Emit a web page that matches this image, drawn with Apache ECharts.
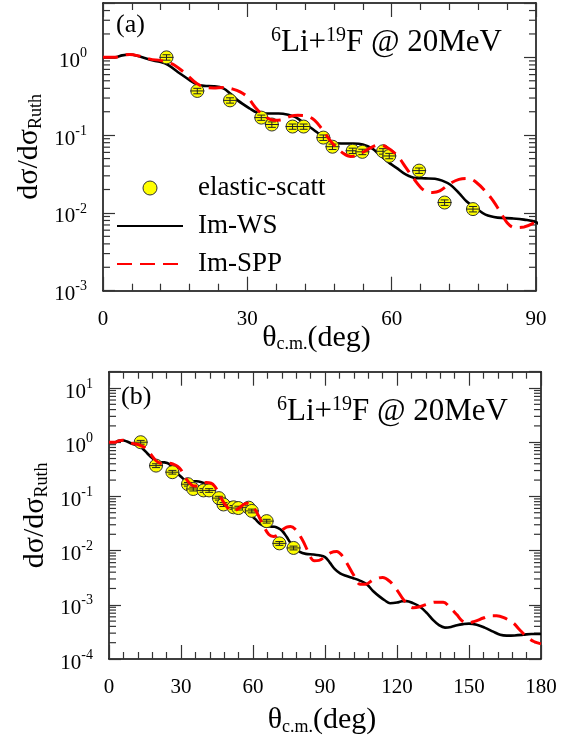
<!DOCTYPE html>
<html>
<head>
<meta charset="utf-8">
<script src="https://cdn.jsdelivr.net/npm/echarts@6/dist/echarts.min.js"></script>
<style>
  html, body { margin: 0; padding: 0; background: #fff; }
  #chart { width: 575px; height: 742px; }
</style>
</head>
<body>
<div id="chart"></div>
<script>
const FONT = '"Liberation Serif", "Times New Roman", serif';

// Measured elastic scattering, ratio to Rutherford, vs θc.m. (deg)
const thetaExp = [13.2, 19.6, 26.4, 32.9, 35.1, 39.4, 41.7, 45.8, 47.7, 51.9, 53.9, 58.2, 59.5, 65.7, 71.0, 76.9];
const sigmaExp = [1.0, 0.37, 0.28, 0.168, 0.137, 0.129, 0.129, 0.093, 0.071, 0.063, 0.061, 0.062, 0.054, 0.035, 0.0136, 0.0112];
const errExp   = [0.08, 0.03, 0.022, 0.013, 0.011, 0.010, 0.010, 0.0075, 0.0057, 0.005, 0.0049, 0.005, 0.0043, 0.0028, 0.0011, 0.0009];

// Optical-model calculation with Woods-Saxon imaginary part
const thetaWS = [0, 2.5, 4, 5.6, 7.5, 9.8, 12, 13.5, 16, 18, 19.5, 21, 23, 25, 26.5, 28, 30.5, 32, 34, 36.5, 38.5, 40, 42, 44.4, 46, 47.5, 49.5, 52, 54, 56, 57.6, 59.7, 61, 63, 65, 67, 69, 70.5, 72.2, 74, 75.6, 77.5, 79.5, 82, 85, 87.5, 90, 92, 94, 96.3, 99, 101.8, 104.5, 107.4, 110, 112.9, 115, 117.1, 120, 122, 124, 126.5, 129.6, 132.5, 135.1, 137.5, 140, 142.5, 145, 147.6, 150, 153.2, 156.5, 160.1, 163, 165.7, 169, 172.6, 176, 180];
const sigmaWS = [1.0, 1.0, 1.06, 1.09, 1.03, 0.93, 0.87, 0.80, 0.62, 0.51, 0.45, 0.43, 0.425, 0.40, 0.34, 0.28, 0.22, 0.195, 0.19, 0.19, 0.183, 0.17, 0.14, 0.11, 0.092, 0.081, 0.078, 0.078, 0.076, 0.067, 0.055, 0.043, 0.038, 0.031, 0.028, 0.0278, 0.0275, 0.026, 0.023, 0.018, 0.014, 0.0115, 0.0095, 0.0087, 0.0085, 0.0082, 0.0076, 0.006, 0.0046, 0.0038, 0.0034, 0.0031, 0.0028, 0.0024, 0.0018, 0.0014, 0.0012, 0.00107, 0.0011, 0.00116, 0.00117, 0.00108, 0.00092, 0.0007, 0.00052, 0.00042, 0.00038, 0.00039, 0.00042, 0.00044, 0.00045, 0.00043, 0.00038, 0.00032, 0.00028, 0.00027, 0.000272, 0.00028, 0.00029, 0.00029];

// Optical-model calculation with São Paulo imaginary part
const thetaSPP = [0, 2.5, 4, 5.6, 7.5, 9.8, 12, 13.5, 14.8, 17, 19.5, 21.5, 23, 25, 27, 28.5, 30, 32, 34, 35.5, 37, 39, 40.5, 42.5, 44, 45.5, 47.9, 50, 51.5, 53.5, 55.5, 57.3, 59, 61.1, 63, 64.5, 66.6, 68.5, 70, 72.2, 74, 75.6, 77.5, 80.5, 82.5, 84, 85.5, 87.5, 90, 92.5, 94.9, 97, 99, 102, 104.6, 107, 110.1, 114, 117, 119.9, 123, 126.8, 129.5, 132.4, 136, 139.3, 142, 144.9, 147, 149, 152, 156, 159, 161.5, 164.5, 168.5, 171, 174, 177, 180];
const sigmaSPP = [1.0, 1.0, 1.06, 1.09, 1.04, 0.95, 0.91, 0.86, 0.80, 0.63, 0.46, 0.41, 0.405, 0.41, 0.39, 0.36, 0.31, 0.215, 0.168, 0.155, 0.157, 0.175, 0.18, 0.175, 0.155, 0.12, 0.076, 0.058, 0.053, 0.058, 0.068, 0.075, 0.07, 0.055, 0.038, 0.028, 0.0198, 0.0183, 0.0192, 0.024, 0.027, 0.0278, 0.025, 0.016, 0.0105, 0.0075, 0.0065, 0.0066, 0.0077, 0.0092, 0.0096, 0.0082, 0.006, 0.0035, 0.0024, 0.0024, 0.0029, 0.0032, 0.0027, 0.0019, 0.0012, 0.00088, 0.00092, 0.00102, 0.00112, 0.00112, 0.0009, 0.00066, 0.00051, 0.00046, 0.00049, 0.00057, 0.00063, 0.00063, 0.00058, 0.00046, 0.00035, 0.00026, 0.00021, 0.00019];

// Axis ranges and minor log ticks (2..9 per decade)
const xMaxA = 90, xMaxB = 180;
const yMinA = 1e-3, yMaxA = 5;
const yMinB = 1e-4, yMaxB = 20;
const minorMult = [2, 3, 4, 5, 6, 7, 8, 9];
const decadesA = [-3, -2, -1, 0];
const decadesB = [-4, -3, -2, -1, 0, 1];

function minorTicks(decades, yMax) {
  const out = [];
  decades.forEach(d => minorMult.forEach(m => {
    const v = m * Math.pow(10, d);
    if (v < yMax) out.push([0, v]);
  }));
  return out;
}

const expData = thetaExp.map((t, i) => [t, sigmaExp[i], errExp[i]]);
const wsData = thetaWS.map((t, i) => [t, sigmaWS[i]]);
const sppData = thetaSPP.map((t, i) => [t, sigmaSPP[i]]);

const labelRich = {
  b: { fontFamily: FONT, fontSize: 21, color: '#000', lineHeight: 30 },
  s: { fontFamily: FONT, fontSize: 14, color: '#000', lineHeight: 14, verticalAlign: 'top' }
};

function powLabel(v) {
  const lg = Math.log10(v);
  const e = Math.round(lg);
  if (Math.abs(lg - e) > 1e-6) return '';
  return '{b|10}{s|' + e + '}';
}

const nameRich = {
  b: { fontFamily: FONT, fontSize: 30, fontWeight: 'normal', color: '#000', lineHeight: 32 },
  s: { fontFamily: FONT, fontSize: 18, fontWeight: 'normal', color: '#000', lineHeight: 18, verticalAlign: 'bottom' }
};

function xAxisPair(gridIndex, xMax, nameGap) {
  const common = {
    gridIndex, type: 'value', min: 0, max: xMax, interval: 30,
    axisLine: { show: true, onZero: false, lineStyle: { color: '#000', width: 1.5 } },
    axisTick: { show: true, inside: true, length: 14, lineStyle: { color: '#333', width: 1.2 } },
    minorTick: { show: true, splitNumber: 5, length: 7, lineStyle: { color: '#333', width: 1.2 } },
    splitLine: { show: false }, minorSplitLine: { show: false }
  };
  return [
    Object.assign({}, common, {
      position: 'bottom',
      axisLabel: { show: true, margin: 18, fontFamily: FONT, fontSize: 21, color: '#000' },
      name: '{b|θ}{s|c.m.}{b|(deg)}',
      nameLocation: 'middle', nameGap,
      nameMoveOverlap: false,
      nameTextStyle: { rich: nameRich, padding: [0, 6, 0, 0] }
    }),
    Object.assign({}, common, { position: 'top', axisLabel: { show: false } })
  ];
}

function yAxisPair(gridIndex, yMin, yMax, nameGap) {
  const common = {
    gridIndex, type: 'log', logBase: 10, min: yMin, max: yMax,
    axisLine: { show: true, onZero: false, lineStyle: { color: '#000', width: 1.5 } },
    axisTick: { show: true, inside: true, length: 12, lineStyle: { color: '#333', width: 1.2 } },
    minorTick: { show: false },
    splitLine: { show: false }
  };
  return [
    Object.assign({}, common, {
      position: 'left',
      axisLabel: { show: true, margin: 16, padding: [8, 0, 0, 0], formatter: powLabel, rich: labelRich },
      name: '{b|dσ/dσ}{s|Ruth}',
      nameLocation: 'middle', nameGap, nameRotate: 90,
      nameMoveOverlap: false,
      nameTextStyle: { rich: nameRich }
    }),
    Object.assign({}, common, { position: 'right', axisLabel: { show: false } })
  ];
}

function renderExp(params, api) {
  const x = api.value(0), y = api.value(1), e = api.value(2);
  const c = api.coord([x, y]);
  const lo = api.coord([x, y - e]);
  const hi = api.coord([x, y + e]);
  const ls = { stroke: '#222', lineWidth: 1 };
  return {
    type: 'group',
    children: [
      { type: 'circle', shape: { cx: c[0], cy: c[1], r: 6.5 }, style: { fill: '#ffff00', stroke: '#333', lineWidth: 1 } },
      { type: 'line', shape: { x1: c[0] - 7, y1: c[1], x2: c[0] + 7, y2: c[1] }, style: ls },
      { type: 'line', shape: { x1: c[0], y1: lo[1], x2: c[0], y2: hi[1] }, style: ls },
      { type: 'line', shape: { x1: c[0] - 4, y1: lo[1], x2: c[0] + 4, y2: lo[1] }, style: ls },
      { type: 'line', shape: { x1: c[0] - 4, y1: hi[1], x2: c[0] + 4, y2: hi[1] }, style: ls }
    ]
  };
}

function renderMinor(params, api) {
  const cs = params.coordSys;
  const y = api.coord([api.value(0), api.value(1)])[1];
  const st = { stroke: '#333', lineWidth: 1.2 };
  return {
    type: 'group',
    children: [
      { type: 'line', shape: { x1: cs.x, y1: y, x2: cs.x + 7, y2: y }, style: st },
      { type: 'line', shape: { x1: cs.x + cs.width - 7, y1: y, x2: cs.x + cs.width, y2: y }, style: st }
    ]
  };
}

function panelSeries(xi, yi) {
  return [
    { type: 'custom', name: 'minor', xAxisIndex: xi, yAxisIndex: yi, silent: true, clip: false,
      renderItem: renderMinor, encode: { x: 0, y: 1 },
      data: minorTicks(xi === 0 ? decadesA : decadesB, xi === 0 ? yMaxA : yMaxB), z: 1 },
    { type: 'line', name: 'Im-WS', xAxisIndex: xi, yAxisIndex: yi, data: wsData, symbol: 'none',
      smooth: 0.35, silent: true, z: 2,
      lineStyle: { color: '#000', width: 2.6 }, itemStyle: { color: '#000' } },
    { type: 'custom', name: 'elastic-scatt', xAxisIndex: xi, yAxisIndex: yi, silent: true, z: 3,
      renderItem: renderExp, encode: { x: 0, y: 1 }, data: expData,
      itemStyle: { color: '#ffff00', borderColor: '#333', borderWidth: 1 } },
    { type: 'line', name: 'Im-SPP', xAxisIndex: xi, yAxisIndex: yi, data: sppData, symbol: 'none',
      smooth: 0.35, silent: true, z: 4,
      lineStyle: { color: '#ff0000', width: 3, type: [15, 8] }, itemStyle: { color: '#ff0000' } }
  ];
}

const titleRich = {
  b: { fontFamily: FONT, fontSize: 31, fontWeight: 'normal', color: '#000', lineHeight: 34 },
  s: { fontFamily: FONT, fontSize: 20, fontWeight: 'normal', color: '#000', lineHeight: 18, verticalAlign: 'top' }
};
const reactionText = '{s|6}{b|Li+}{s|19}{b|F @ 20MeV}';
const tagStyle = { fontFamily: FONT, fontSize: 26, fontWeight: 'normal', color: '#000' };

const [xa0, xa1] = xAxisPair(0, xMaxA, 31);
const [xb0, xb1] = xAxisPair(1, xMaxB, 45);
const [ya0, ya1] = yAxisPair(0, yMinA, yMaxA, 58);
const [yb0, yb1] = yAxisPair(1, yMinB, yMaxB, 58);

// Line entries in the key show only the stroke, no marker
const lineKeyStyle = { opacity: 0 };

const option = {
  animation: false,
  backgroundColor: '#fff',
  title: [
    { text: '(a)', left: 116, top: 12, padding: 0, textStyle: tagStyle },
    { text: reactionText, right: 73, top: 26, padding: 0, textStyle: { fontWeight: 'normal', rich: titleRich } },
    { text: '(b)', left: 121, top: 384, padding: 0, textStyle: tagStyle },
    { text: reactionText, right: 67, top: 395, padding: 0, textStyle: { fontWeight: 'normal', rich: titleRich } }
  ],
  legend: {
    orient: 'vertical', left: 116, top: 174, padding: 0,
    itemWidth: 66, itemHeight: 14, itemGap: 10,
    selectedMode: false,
    textStyle: { fontFamily: FONT, fontSize: 27, color: '#000', lineHeight: 28, padding: [0, 0, 0, 10] },
    data: [
      { name: 'elastic-scatt', icon: 'circle', itemStyle: { color: '#ffff00', borderColor: '#333', borderWidth: 1 } },
      { name: 'Im-WS', itemStyle: lineKeyStyle },
      { name: 'Im-SPP', itemStyle: lineKeyStyle }
    ]
  },
  grid: [
    { left: 103, top: 3, width: 433, height: 287.7, outerBoundsMode: 'none', containLabel: false },
    { left: 109, top: 371.7, width: 432, height: 287.3, outerBoundsMode: 'none', containLabel: false }
  ],
  xAxis: [xa0, xa1, xb0, xb1],
  yAxis: [ya0, ya1, yb0, yb1],
  series: [].concat(panelSeries(0, 0), panelSeries(2, 2))
};

const chart = echarts.init(document.getElementById('chart'), null, { renderer: 'canvas' });
chart.setOption(option);
</script>
</body>
</html>
